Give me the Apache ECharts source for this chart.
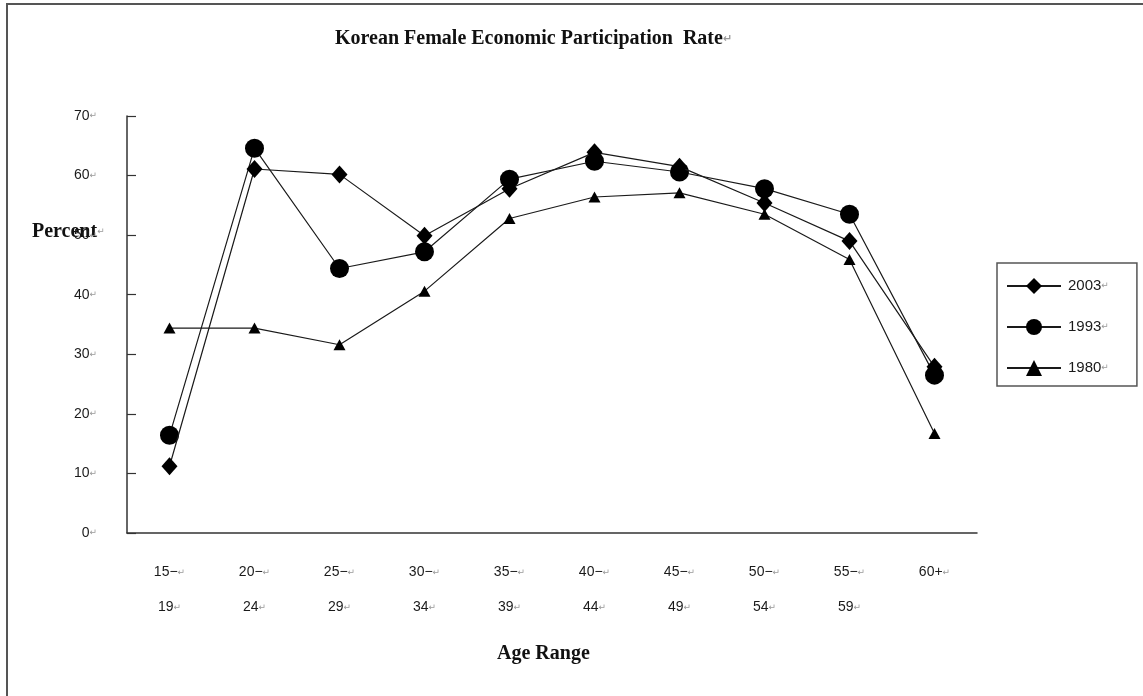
<!DOCTYPE html>
<html>
<head>
<meta charset="utf-8">
<script src="https://cdn.jsdelivr.net/npm/echarts@6/dist/echarts.min.js"></script>
<style>
  html, body { margin: 0; padding: 0; background: #fff; }
  #chart { width: 1143px; height: 696px; }
</style>
</head>
<body>
<div id="chart"></div>
<script>
// ---- data ----
const categories = ['15-19', '20-24', '25-29', '30-34', '35-39', '40-44', '45-49', '50-54', '55-59', '60+'];
const rate2003 = [11.2, 61.1, 60.2, 49.9, 57.8, 63.9, 61.5, 55.4, 49.0, 27.9];
const rate1993 = [16.4, 64.6, 44.4, 47.2, 59.4, 62.4, 60.6, 57.8, 53.5, 26.5];
const rate1980 = [34.4, 34.4, 31.6, 40.6, 52.8, 56.4, 57.1, 53.5, 45.9, 16.7];
const seriesNames = ['2003', '1993', '1980'];
const yTicks = { min: 0, max: 70, interval: 10 };
const titleText = 'Korean Female Economic Participation  Rate';
const yName = 'Percent';
const xName = 'Age Range';

const RET = '\u21B5';
const sans = "'Liberation Sans', 'DejaVu Sans', sans-serif";
const serif = "'Liberation Serif', 'DejaVu Serif', serif";
const ink = '#1a1a1a';
const markColor = '#999';

const chart = echarts.init(document.getElementById('chart'), null, { renderer: 'canvas' });

function xLabel(name) {
  const parts = name.split('-');
  if (parts.length === 2) {
    return '{a|' + parts[0] + '\u2212}{b|' + RET + '}\n{a|' + parts[1] + '}{b|' + RET + '}';
  }
  return '{a|' + name + '}{b|' + RET + '}';
}

const lineCommon = {
  type: 'line',
  color: ink,
  lineStyle: { color: ink, width: 1.2 },
  itemStyle: { color: '#000' },
  emphasis: { disabled: true },
  animation: false
};

chart.setOption({
  backgroundColor: '#fff',
  animation: false,
  title: {
    text: '{t|' + titleText + '}{b|' + RET + '}',
    left: 335,
    top: 29,
    padding: 0,
    textStyle: {
      rich: {
        t: { fontFamily: serif, fontWeight: 'bold', fontSize: 20, color: '#111' },
        b: { fontFamily: sans, fontSize: 11, color: markColor }
      }
    }
  },
  legend: {
    orient: 'vertical',
    left: 997,
    top: 263,
    padding: [15, 28, 10, 9],
    itemWidth: 54,
    itemHeight: 20,
    itemGap: 25,
    borderColor: '#555',
    borderWidth: 1.5,
    borderRadius: 0,
    selectedMode: false,
    data: seriesNames,
    formatter: function (n) { return '{a|' + n + '}{b|' + RET + '}'; },
    textStyle: {
      padding: [0, 0, 0, 2],
      rich: {
        a: { fontFamily: sans, fontSize: 15, color: ink },
        b: { fontFamily: sans, fontSize: 9, color: markColor }
      }
    }
  },
  grid: {
    left: 127,
    right: 166,
    top: 116,
    bottom: 163,
    containLabel: false,
    outerBoundsMode: 'none'
  },
  xAxis: {
    type: 'category',
    data: categories,
    boundaryGap: true,
    axisLine: { lineStyle: { color: '#333', width: 1.5 } },
    axisTick: { inside: true, length: 10, lineStyle: { color: '#333', width: 1.2 } },
    splitLine: { show: false },
    axisLabel: {
      interval: 0,
      margin: 22,
      formatter: xLabel,
      rich: {
        a: { fontFamily: sans, fontSize: 14, color: ink, lineHeight: 35 },
        b: { fontFamily: sans, fontSize: 9, color: markColor, lineHeight: 35 }
      }
    }
  },
  yAxis: {
    type: 'value',
    min: yTicks.min,
    max: yTicks.max,
    interval: yTicks.interval,
    axisLine: { show: true, lineStyle: { color: '#333', width: 1.5 } },
    axisTick: { show: true, inside: true, length: 9, lineStyle: { color: '#333', width: 1.2 } },
    splitLine: { show: false },
    axisLabel: {
      margin: 30,
      formatter: function (v) { return '{a|' + v + '}{b|' + RET + '}'; },
      rich: {
        a: { fontFamily: sans, fontSize: 14, color: ink },
        b: { fontFamily: sans, fontSize: 9, color: markColor }
      }
    }
  },
  graphic: [
    {
      type: 'rect',
      silent: true,
      shape: { x: 7, y: 4, width: 1300, height: 900 },
      style: { fill: 'none', stroke: '#555', lineWidth: 2 }
    },
    {
      type: 'text',
      x: 32,
      y: 232,
      silent: true,
      style: {
        text: '{t|' + yName + '}{b|' + RET + '}',
        verticalAlign: 'middle',
        rich: {
          t: { fontFamily: serif, fontWeight: 'bold', fontSize: 20, fill: '#111' },
          b: { fontFamily: sans, fontSize: 9, fill: markColor }
        }
      }
    },
    {
      type: 'text',
      x: 497,
      y: 654,
      silent: true,
      style: {
        text: xName,
        fontFamily: serif,
        fontWeight: 'bold',
        fontSize: 20,
        fill: '#111',
        verticalAlign: 'middle'
      }
    }
  ],
  series: [
    Object.assign({}, lineCommon, { name: seriesNames[0], data: rate2003, symbol: 'diamond', symbolSize: [16, 18], z: 3 }),
    Object.assign({}, lineCommon, { name: seriesNames[1], data: rate1993, symbol: 'circle', symbolSize: 19, z: 2 }),
    Object.assign({}, lineCommon, { name: seriesNames[2], data: rate1980, symbol: 'triangle', symbolSize: [12, 11], z: 2 })
  ]
});
</script>
</body>
</html>
